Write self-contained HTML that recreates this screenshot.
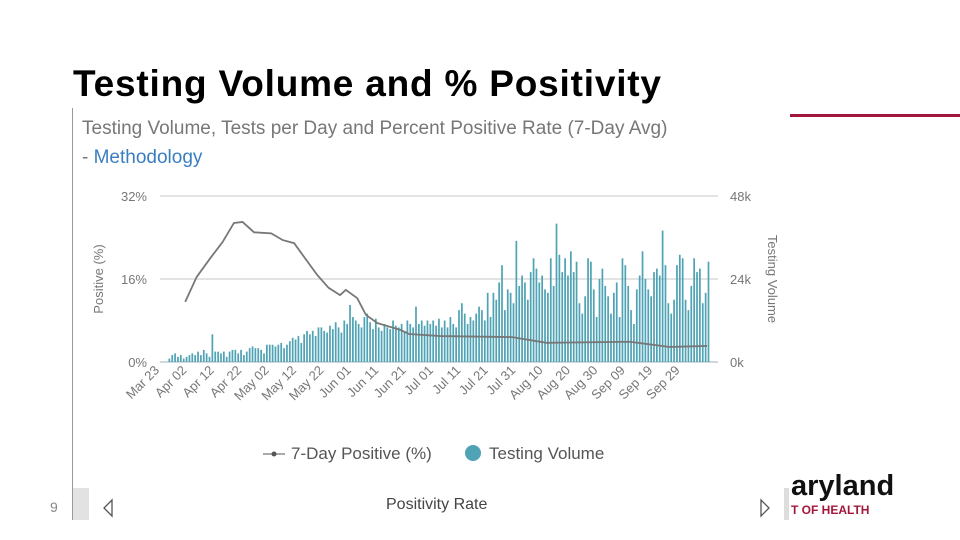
<!DOCTYPE html>
<html><head><meta charset="utf-8"><style>
body{margin:0;width:960px;height:540px;background:#fff;overflow:hidden;font-family:"Liberation Sans",sans-serif;position:relative}
.t{position:absolute;white-space:nowrap}
</style></head><body>
<div class="t" style="left:73px;top:63px;font-size:37px;font-weight:bold;color:#000;letter-spacing:0.8px">Testing Volume and % Positivity</div>
<div style="position:absolute;left:790px;top:114px;width:170px;height:3px;background:#a3163c"></div>
<div style="position:absolute;left:72px;top:108px;width:1px;height:380px;background:#999"></div>
<div style="position:absolute;left:72px;top:488px;width:16px;height:32px;background:#e2e2e2;border-left:1px solid #999"></div>
<div style="position:absolute;left:784px;top:488px;width:5px;height:32px;background:#ddd"></div>
<div class="t" style="left:50px;top:499px;font-size:14px;color:#888">9</div>
<div class="t" style="left:82px;top:118px;font-size:19px;color:#777">Testing Volume, Tests per Day and Percent Positive Rate (7-Day Avg)</div>
<div class="t" style="left:82px;top:147px;font-size:19px;color:#777">- <span style="color:#3a7ec0">Methodology</span></div>
<div class="t" style="left:386px;top:496px;font-size:16px;color:#444">Positivity Rate</div>
<div class="t" style="left:791px;top:470px;font-size:29px;font-weight:bold;color:#111">aryland</div>
<div class="t" style="left:791px;top:503px;font-size:12px;font-weight:bold;color:#a3163c">T OF HEALTH</div>
<svg id="c" width="960" height="540" style="position:absolute;left:0;top:0">
<polygon points="112,500 104,508 112,516" fill="none" stroke="#555" stroke-width="1.3"/>
<polygon points="761,500 769,508 761,516" fill="none" stroke="#555" stroke-width="1.3"/>
</svg>
<script>
const tests=[1,2,2.5,1.5,2,1,1.5,2,2.5,2,3,2,3.5,2.5,1.5,8,3,3,2.5,3,1.5,3,3.5,3.5,2.5,3.5,2,3,4,4.5,4,4,3.5,2.5,5,5,5,4.5,5,5.5,4,
5,6,7,6.5,7.5,5.5,8,9,8,9,7.5,10,10,9,8.5,10.5,9.5,11.5,10,8.5,
12,11,16.5,13,12,11,10,13,14,11.5,
9.5,12.5,10,9,11,10,9.5,12,10.5,10,11,9,12,11,10,16,11,12,10.5,12,11,12,10.5,12.5,10,
12,10,13,11,10,15,17,14,11,13,12,14,16,15,12,20,13,20,18,23,28,15,21,20,17,35,22,25,23,18,26,30,27,23,25,21,20,30,22,40,
31,26,30,25,32,26,29,17,14,19,30,29,21,13,24,27,22,19,14,20,23,13,30,28,22,15,11,21,25,32,24,21,19,26,27,25,38,28,17,14,18,28,31,30,18,15,22,30,26,27,17,20,29];
const posDays=[6,10,15,19,23,26,30,36,40,44,47,52,56,60,62,66,69,73,81,84,95,120,132,161,175,188];
const posVals=[11.6,16.4,20.2,23.1,26.8,27,25,24.8,23.5,22.9,20.6,16.8,14.3,12.9,13.9,12.3,9.1,7.5,6.2,5.4,5.0,4.8,3.7,3.9,2.9,3.1];
const xLabels=["Mar 23","Apr 02","Apr 12","Apr 22","May 02","May 12","May 22","Jun 01","Jun 11","Jun 21","Jul 01","Jul 11","Jul 21","Jul 31","Aug 10","Aug 20","Aug 30","Sep 09","Sep 19","Sep 29"];
const leftTicks=["0%","16%","32%"];
const rightTicks=["0k","24k","48k"];
const svg=document.getElementById('c');const NS='http://www.w3.org/2000/svg';
function mk(t,a){const e=document.createElementNS(NS,t);for(const k in a)e.setAttribute(k,a[k]);svg.appendChild(e);return e;}
const x0=168,x1=710,y0=362,yTop=196,nDays=tests.length;
const dw=(x1-x0)/nDays;
const X=d=>x0+d*dw;
const yL=p=>y0-(y0-yTop)*p/32;
const yR=v=>y0-(y0-yTop)*v/48;
for(let i=0;i<3;i++){const y=y0-(y0-yTop)*i/2;
 const g=mk('line',{x1:160,x2:718,y1:y,y2:y,stroke:i==0?'#cfd8dc':'#e3e3e3','stroke-width':2});
 
 const a=mk('text',{x:147,y:y+5,'text-anchor':'end','font-size':13,fill:'#777'});a.textContent=leftTicks[i];
 
 const b=mk('text',{x:730,y:y+5,'font-size':13,fill:'#777'});b.textContent=rightTicks[i];
 }
tests.forEach((v,i)=>{const r=mk('rect',{x:X(i)+0.5,y:yR(v),width:dw*0.6,height:y0-yR(v),fill:'#4fa3b5'});
 });
const pl=mk('polyline',{points:posDays.map((d,i)=>X(d)+','+yL(posVals[i])).join(' '),fill:'none',stroke:'#777','stroke-width':1.8});

xLabels.forEach((l,i)=>{const x=160+i*27.4,y=371;
 const t=mk('text',{x:x,y:y,'text-anchor':'end','font-size':13,fill:'#777',transform:`rotate(-45 ${x} ${y})`});t.textContent=l;
 });
const yt=mk('text',{x:103,y:279,'text-anchor':'middle','font-size':13,fill:'#777',transform:'rotate(-90 103 279)'});yt.textContent='Positive (%)';

const yt2=mk('text',{x:768,y:279,'text-anchor':'middle','font-size':13,fill:'#777',transform:'rotate(90 768 279)'});yt2.textContent='Testing Volume';

const l1=mk('line',{x1:263,x2:285,y1:454,y2:454,stroke:'#777','stroke-width':1.2});
const l2=mk('circle',{cx:274,cy:454,r:2.5,fill:'#555'});
const l3=mk('text',{x:291,y:459,'font-size':17,fill:'#555'});l3.textContent='7-Day Positive (%)';
const l4=mk('circle',{cx:473,cy:453,r:8,fill:'#4fa3b5'});
const l5=mk('text',{x:489,y:459,'font-size':17,fill:'#555'});l5.textContent='Testing Volume';
</script>
</body></html>
